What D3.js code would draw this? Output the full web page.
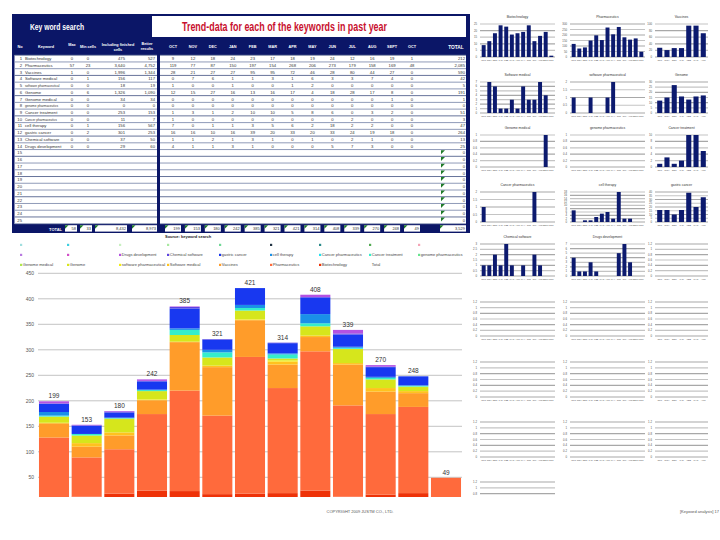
<!DOCTYPE html>
<html><head><meta charset="utf-8">
<script src="https://cdn.jsdelivr.net/npm/d3@7"></script>
<style>body{margin:0;background:#fff}svg{display:block;font-family:"Liberation Sans",Arial,sans-serif}</style>
</head><body><svg id="c" width="720" height="540"></svg>
<script>
// ---------------- DATA ----------------
const months = ["OCT","NOV","DEC","JAN","FEB","MAR","APR","MAY","JUN","JUL","AUG","SEPT","OCT"];
const keywords = ["Biotechnology","Pharmaceutics","Vaccines","Software medical","software pharmaceutical","Genome","Genome medical","genome pharmaceutics","Cancer treatment","Cancer pharmaceutics","cell therapy","gastric cancer","Chemical software","Drugs development"];
const kwMax    = [0,57,1,0,0,0,0,0,0,0,0,0,0,0];
const kwMin    = [0,23,0,1,0,6,0,0,0,0,1,2,0,0];
const kwIncl   = [475,3640,1996,156,18,1326,34,0,253,11,156,301,37,29];
const kwBetter = [527,4752,1344,117,19,1090,34,0,153,7,567,253,50,60];
const s01 = [9,12,18,24,23,17,18,19,24,12,16,19,1];
const s02 = [119,77,87,150,197,154,268,206,273,179,158,169,48];
const s03 = [28,21,27,27,95,95,72,46,28,80,44,27,0];
const s04 = [0,7,6,1,1,3,1,6,3,3,7,4,0];
const s05 = [1,0,0,1,0,0,1,2,0,0,0,0,0];
const s06 = [12,15,27,16,13,16,17,4,18,28,17,8,0];
const s07 = [0,0,0,0,0,0,0,0,0,0,0,1,0];
const s08 = [0,0,0,0,0,0,0,0,0,0,0,0,0];
const s09 = [1,3,1,2,10,10,5,8,6,0,3,2,0];
const s10 = [1,0,0,0,0,0,0,0,0,2,0,0,0];
const s11 = [7,0,1,1,3,5,6,2,18,2,2,0,0];
const s12 = [16,16,10,16,39,20,33,20,33,24,19,18,0];
const s13 = [1,1,2,1,3,1,0,1,0,2,1,0,0];
const s14 = [4,1,1,3,1,0,0,0,5,7,3,0,0];
const series = [s01,s02,s03,s04,s05,s06,s07,s08,s09,s10,s11,s12,s13,s14];
const seriesColors = ["#ee3208","#ff6a3c","#ff9c2a","#ffc21e","#f2ee10","#d6e61c","#b0e84c","#66e48e","#34eecc","#22e0f0","#1a90e8","#1838f0","#5c44e2","#b452e2"];
const unnamedColors = ["#d24fc8","#b87ae0","#f4a4b6","#52aa52","#2a8a8a","#223344","#70d896","#a8e8a0","#c8f0c0","#3ecfe0","#a0dede"]; // rows 15..25
const yTicks = [50,100,150,200,250,300,350,400,450];
const smallMap = [[0,1,2],[3,4,5],[6,7,8],[9,10,11],[12,13,-1],[-1,-1,-1],[-1,-1,-1],[-1,-1,-1],[-1,null,null]];

// ---------------- DRAW ----------------
const svg = d3.select("#c");
svg.append("rect").attr("width",720).attr("height",540).attr("fill","#fff");
const NAVY = "#0b1667";
const fmt = d3.format(",");

// ===== TABLE =====
const T = svg.append("g");
T.append("rect").attr("x",12).attr("y",14).attr("width",458).attr("height",219).attr("fill",NAVY);
T.append("rect").attr("x",152).attr("y",16).attr("width",314).attr("height",21).attr("fill","#fff");
T.append("text").attr("x",57).attr("y",30).attr("text-anchor","middle").attr("fill","#fff")
  .attr("font-weight","bold").attr("font-size",9).attr("textLength",54).attr("lengthAdjust","spacingAndGlyphs").text("Key word search");
T.append("text").attr("x",182).attr("y",31).attr("fill","#c8102e").attr("font-weight","bold").attr("font-size",12)
  .attr("textLength",205).attr("lengthAdjust","spacingAndGlyphs").text("Trend-data for each of the keywords in past year");

const monthX = d3.scalePoint().domain(d3.range(13)).range([173,412]);
const rowY = d3.scaleBand().domain(d3.range(25)).range([55.2,223.7]);
const hdr = (x,y,t,anchor)=>T.append("text").attr("x",x).attr("y",y).attr("text-anchor",anchor||"middle")
  .attr("fill","#fff").attr("font-weight","bold").attr("font-size",3.8).text(t);
hdr(20,48,"No"); hdr(46,48,"Keyword"); hdr(72,46,"Max"); hdr(88,48,"Min cells");
hdr(118,46,"Including finished"); hdr(118,50.5,"cells"); hdr(147,45,"Better"); hdr(147,49.5,"results");
months.forEach((m,i)=>hdr(monthX(i),48,m));
T.append("text").attr("x",456).attr("y",48.5).attr("text-anchor","middle").attr("fill","#fff").attr("font-weight","bold").attr("font-size",4.8).text("TOTAL");

T.append("rect").attr("x",14.5).attr("y",55).attr("width",142.5).attr("height",169).attr("fill","#fff");
T.append("rect").attr("x",160).attr("y",55).attr("width",306).attr("height",169).attr("fill","#fff");
d3.range(26).forEach(i=>{
  const yy = i<25 ? rowY(i) : 223.7;
  const col = (i%3===0) ? "#56648e" : "#8390b0";
  T.append("line").attr("x1",14.5).attr("x2",157).attr("y1",yy).attr("y2",yy).attr("stroke",col).attr("stroke-width",0.9);
  T.append("line").attr("x1",160).attr("x2",466).attr("y1",yy).attr("y2",yy).attr("stroke",col).attr("stroke-width",0.9);
});
const cell = (x,y,t,anchor,size)=>T.append("text").attr("x",x).attr("y",y).attr("text-anchor",anchor||"middle")
  .attr("fill","#333").attr("font-size",size||4.2).text(t);
d3.range(25).forEach(i=>{
  const yc = rowY(i) + rowY.bandwidth()/2 + 1.5;
  cell(22,yc,String(i+1),"end");
  if (i < 14) {
    const small = (i===4||i===7||i===9);
    cell(25,yc,keywords[i],"start",small?3.2:4.2);
    cell(72,yc,fmt(kwMax[i])); cell(88,yc,fmt(kwMin[i]));
    cell(125,yc,fmt(kwIncl[i]),"end"); cell(155,yc,fmt(kwBetter[i]),"end");
    series[i].forEach((v,j)=>cell(monthX(j),yc,fmt(v)));
    cell(465,yc,fmt(d3.sum(series[i])),"end");
  } else {
    const top = rowY(i)+0.6;
    T.append("path").attr("d",`M441,${top}L445,${top}L441,${top+4}Z`).attr("fill","#1f7a2a");
    cell(465,yc,"0","end");
  }
});
// totals row
T.append("text").attr("x",62).attr("y",230.5).attr("text-anchor","end").attr("fill","#fff").attr("font-size",4).attr("font-weight","bold").text("TOTAL");
const totBox = (x0,x1,val)=>{
  T.append("rect").attr("x",x0).attr("y",225.2).attr("width",x1-x0).attr("height",6.4).attr("fill","#fff");
  T.append("path").attr("d",`M${x0},225.2L${x0+3.5},225.2L${x0},228.8Z`).attr("fill","#1f7a2a");
  T.append("text").attr("x",x1-1).attr("y",230.3).attr("text-anchor","end").attr("fill","#333").attr("font-size",4).text(val);
};
totBox(65,77,fmt(d3.sum(kwMax))); totBox(80,92,fmt(d3.sum(kwMin)));
totBox(95,127,fmt(d3.sum(kwIncl))); totBox(132,157,fmt(d3.sum(kwBetter)));
const monthTotals = months.map((m,j)=>d3.sum(series,s=>s[j]));
monthTotals.forEach((v,j)=>totBox(monthX(j)-8,monthX(j)+8,fmt(v)));
totBox(440,466,fmt(d3.sum(monthTotals)));
svg.append("text").attr("x",165).attr("y",238).attr("font-size",4).attr("font-weight","bold").attr("fill","#222").text("Source: keyword search");

// ===== STACKED CHART =====
const rows = months.map((m,j)=>{const o={i:j}; series.forEach((s,k)=>o[k]=s[j]); return o;});
const stacked = d3.stack().keys(d3.range(series.length))(rows);
const x = d3.scaleBand().domain(d3.range(13)).range([38,462]).paddingInner(0.08).paddingOuter(0.03);
const y = d3.scaleLinear().domain([0,450]).range([502.8,273.3]);
const C = svg.append("g");
C.append("defs").append("clipPath").attr("id","clipMain").append("rect").attr("x",0).attr("y",260).attr("width",720).attr("height",237);
C.selectAll("line.grid").data(yTicks).join("line").attr("class","grid")
  .attr("x1",38).attr("x2",462).attr("y1",d=>y(d)).attr("y2",d=>y(d)).attr("stroke","#b4b4b4").attr("stroke-width",0.8);
C.selectAll("text.yl").data(yTicks).join("text").attr("class","yl").attr("x",34).attr("y",d=>y(d)+1.7)
  .attr("text-anchor","end").attr("font-size",5).attr("fill","#555").text(d=>d);
const B = C.append("g").attr("clip-path","url(#clipMain)");
B.selectAll("g.s").data(stacked).join("g").attr("class","s").attr("fill",(d,k)=>seriesColors[k])
  .selectAll("rect").data(d=>d).join("rect")
  .attr("x",d=>x(d.data.i)).attr("width",x.bandwidth())
  .attr("y",d=>y(d[1])).attr("height",d=>Math.max(0,y(d[0])-y(d[1])));
C.selectAll("text.tot").data(monthTotals).join("text").attr("class","tot")
  .attr("x",(d,i)=>x(i)+x.bandwidth()/2).attr("y",d=>y(d)-3).attr("text-anchor","middle")
  .attr("font-size",6.5).attr("fill","#333").text(d=>d);

// legend
const legend = [];
for (let k=25;k>=1;k--) {
  if (k>14) legend.push({name:"", color:unnamedColors[k-15]});
  else legend.push({name:keywords[k-1], color:seriesColors[k-1]});
}
legend.push({name:"Total", color:null});
const legX = [21,68,120,168,220,271,320,370,419];
const legY = [246,256,266];
legend.forEach((e,i)=>{
  const cx = legX[i%9], cy = legY[Math.floor(i/9)];
  if (e.color) C.append("rect").attr("x",cx-1).attr("y",cy-2.2).attr("width",2.2).attr("height",2.2).attr("fill",e.color);
  if (e.name) C.append("text").attr("x",cx+1.8).attr("y",cy).attr("font-size",4).attr("fill","#444").text(e.name);
});

// ===== SMALL MULTIPLES =====
const smallCols = [[480,555],[570,645],[655,708]];
const smallRows = [[24,57],[82,113],[135,167],[192,222],[244,276],[302,336],[362,397],[422,457],[482,517]];
const S = svg.append("g");
S.append("defs").append("clipPath").attr("id","clipSmall").append("rect").attr("x",470).attr("y",0).attr("width",250).attr("height",495);
const SG = S.append("g").attr("clip-path","url(#clipSmall)");
smallMap.forEach((row,r)=>row.forEach((idx,c)=>{
  if (idx===null) return;
  const [x0,x1] = smallCols[c], [y0,y1] = smallRows[r];
  const n = c===2 ? 7 : 13;
  const g = SG.append("g");
  const vals = idx>=0 ? series[idx].slice(0,n) : null;
  const mx = vals ? d3.max(vals) : 0;
  let ys, ticks;
  if (mx>0) { ys = d3.scaleLinear().domain([0,mx]).range([y1,y0]).nice(6); ticks = ys.ticks(6); }
  else { const top = idx>=0 ? 1 : 1.2; ys = d3.scaleLinear().domain([0,top]).range([y1,y0]); ticks = d3.range(0,top+0.01,0.2).map(v=>+v.toFixed(1)); }
  ticks.forEach((t,ti)=>{
    g.append("line").attr("x1",x0).attr("x2",x1).attr("y1",ys(t)).attr("y2",ys(t))
      .attr("stroke", ti%2? "#c4c4c4":"#a8a8a8").attr("stroke-width",1.2);
    g.append("text").attr("x",x0-3).attr("y",ys(t)+1).attr("text-anchor","end").attr("font-size",2.8).attr("fill","#555").text(t);
  });
  const xs = d3.scaleBand().domain(d3.range(n)).range([x0,x1]).padding(0.3);
  if (vals) g.selectAll("rect").data(vals).join("rect").attr("x",(d,i)=>xs(i)).attr("width",xs.bandwidth())
    .attr("y",d=>ys(d)).attr("height",d=>ys(0)-ys(d)).attr("fill","#0c1a6e");
  months.slice(0,n).forEach((m,i)=>g.append("text").attr("x",xs(i)+xs.bandwidth()/2).attr("y",y1+4.2)
    .attr("text-anchor","middle").attr("font-size",2.2).attr("fill","#555").text(m));
  if (idx>=0) g.append("text").attr("x",(x0+x1)/2).attr("y",y0-6).attr("text-anchor","middle").attr("font-size",3.4).attr("fill","#333").text(keywords[idx]);
}));

// footer
svg.append("text").attr("x",360).attr("y",513).attr("text-anchor","middle").attr("font-size",4).attr("fill","#555").text("COPYRIGHT 2009 JUSTM CO., LTD.");
svg.append("text").attr("x",680).attr("y",513).attr("font-size",4).attr("fill","#555").text("[Keyword analysis]  17");
</script></body></html>
